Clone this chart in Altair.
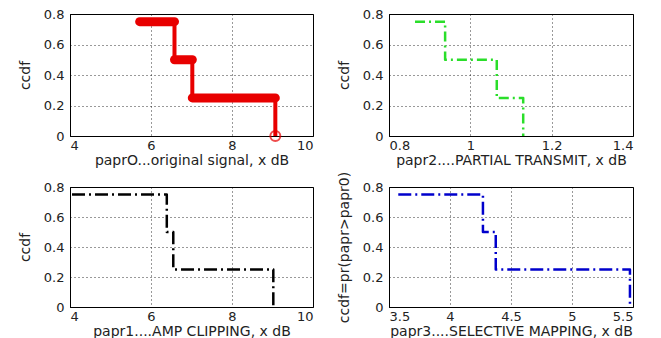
import altair as alt
import pandas as pd

# ccdf levels shared by all four panels
ccdf = [0.75, 0.5, 0.25, 0.0]

# step positions (x, dB)
x_orig = [5.72, 6.58, 7.02, 9.07]
x_pts = [0.864, 0.938, 1.065, 1.130]
x_clip = [4.05, 6.39, 6.55, 9.02]
x_slm = [3.576, 4.27, 4.375, 5.475]

xt_orig = [4, 6, 8, 10]
xt_pts = [0.8, 1.0, 1.2, 1.4]
xt_clip = [4, 6, 8, 10]
xt_slm = [3.5, 4, 4.5, 5, 5.5]
yt = [0, 0.2, 0.4, 0.6, 0.8]

FONT = "DejaVu Sans"


def panel(xs, xdom, xticks, xtitle, ytitle, color, width, height,
          sw=2.5, dash=None, marker=False, thick=None):
    df = pd.DataFrame({"x": xs, "y": ccdf})
    xaxis = alt.Axis(values=xticks, title=xtitle, grid=True, format=".2~f",
                     labelOverlap=False)
    yaxis = alt.Axis(values=yt, title=ytitle, grid=True, format=".2~f",
                     labelOverlap=False)
    kw = dict(color=color, strokeWidth=sw, interpolate="step-after",
              strokeJoin="round")
    if dash:
        kw["strokeDash"] = dash
    base = alt.Chart(df)
    xs_ = alt.Scale(domain=xdom, nice=False, zero=False)
    ys_ = alt.Scale(domain=[0, 0.8], nice=False)
    line = base.mark_line(**kw).encode(
        x=alt.X("x:Q", scale=xs_, axis=xaxis),
        y=alt.Y("y:Q", scale=ys_, axis=yaxis),
    )
    layers = [line]
    if thick:
        hdf = pd.DataFrame({"x": xs[:-1], "x2": xs[1:], "y": ccdf[:-1]})
        bars = alt.Chart(hdf).mark_rule(
            color=color, strokeWidth=thick, strokeCap="round"
        ).encode(x=alt.X("x:Q", scale=xs_, axis=xaxis), x2="x2:Q",
                 y=alt.Y("y:Q", scale=ys_, axis=yaxis))
        layers.append(bars)
    if marker:
        pt = base.transform_filter(alt.datum.y == 0).mark_point(
            shape="circle", size=100, filled=False, color=color, strokeWidth=2
        ).encode(x=alt.X("x:Q", scale=xs_, axis=xaxis),
                 y=alt.Y("y:Q", scale=ys_, axis=yaxis))
        layers.append(pt)
    return alt.layer(*layers).properties(width=width, height=height)


p1 = panel(x_orig, [4, 10], xt_orig, "paprO...original signal, x dB", "ccdf",
           "#e80000", 243, 122, sw=4, marker=True, thick=9)
p2 = panel(x_pts, [0.8, 1.4], xt_pts, "papr2....PARTIAL TRANSMIT, x dB", "ccdf",
           "#2ade2a", 244, 122, sw=2.5, dash=[10, 4, 2, 4])
p3 = panel(x_clip, [4, 10], xt_clip, "papr1....AMP CLIPPING, x dB", "ccdf",
           "#000000", 243, 120, sw=2.5, dash=[13, 4, 2, 4])
p4 = panel(x_slm, [3.5, 5.5], xt_slm, "papr3....SELECTIVE MAPPING, x dB",
           "ccdf=pr(papr>papr0)", "#0000cc", 244, 120, sw=2.5, dash=[13, 4, 2, 4])

chart = alt.concat(
    p1, p2, p3, p4, columns=2,
    spacing={"row": 51, "column": 76}, bounds="flush",
).properties(
    autosize=alt.AutoSizeParams(type="none"),
    padding={"left": 70, "top": 14, "right": 591, "bottom": 324},
    background="white",
).configure_view(
    stroke="black", strokeWidth=1
).configure_axis(
    labelFont=FONT, titleFont=FONT, labelFontSize=13, titleFontSize=14,
    labelColor="#222", titleColor="#222", titleFontWeight="normal",
    domainColor="black", tickSize=0, gridColor="#000", gridOpacity=0.8,
    gridDash=[1, 3], gridWidth=1,
).configure_axisX(
    labelPadding=3, titlePadding=1,
).configure_axisY(
    labelPadding=6, titlePadding=11,
)

chart.save("out.html", embed_options={"renderer": "svg", "actions": False})
